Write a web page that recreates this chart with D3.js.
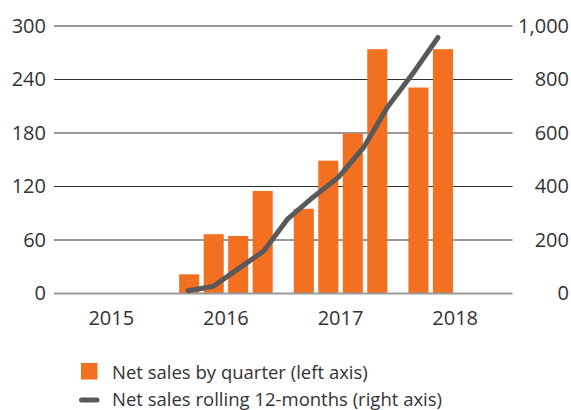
<!DOCTYPE html>
<html>
<head>
<meta charset="utf-8">
<script src="https://cdn.jsdelivr.net/npm/d3@7"></script>
<style>
  html, body { margin: 0; padding: 0; background: #fff; }
  svg { display: block; font-family: "Open Sans", sans-serif; }
</style>
</head>
<body>
<svg id="chart" width="571" height="410"></svg>
<script>
// ---- data ----
const years = ["2015", "2016", "2017", "2018"];
const quarters = ["Q1", "Q2", "Q3", "Q4"];
const barYear = ["2016", "2016", "2016", "2016", "2017", "2017", "2017", "2017", "2018", "2018"];
const barQuarter = ["Q1", "Q2", "Q3", "Q4", "Q1", "Q2", "Q3", "Q4", "Q1", "Q2"];
const barValues = [21.5, 66.5, 64.5, 115, 95, 149, 179.5, 274, 231, 274];
const lineTime = [2016.17, 2016.39, 2016.61, 2016.83, 2017.04, 2017.26, 2017.48, 2017.70, 2017.91, 2018.13, 2018.35];
const lineValues = [10, 27, 93, 159, 279, 360, 434, 545, 697, 822, 957];
const leftTicks = [0, 60, 120, 180, 240, 300];
const rightTicks = [0, 200, 400, 600, 800, 1000];
const legendLabels = ["Net sales by quarter (left axis)", "Net sales rolling 12-months (right axis)"];

// ---- layout ----
const svg = d3.select("#chart");
const plotLeft = 54, plotRight = 512.5, plotTop = 26, plotBottom = 293.5;
const orange = "#F37021", lineColor = "#595959", textColor = "#333333";

const x = d3.scaleBand().domain(years).range([plotLeft, plotRight]).padding(0);
const xq = d3.scaleBand().domain(quarters).range([0, x.bandwidth()]).paddingInner(0.18).paddingOuter(0.43);
const xt = d3.scaleLinear().domain([2015, 2019]).range([plotLeft, plotRight]);
const yL = d3.scaleLinear().domain([0, 300]).range([plotBottom, plotTop]);
const yR = d3.scaleLinear().domain([0, 1000]).range([plotBottom, plotTop]);

// gridlines
svg.append("g").selectAll("line").data(leftTicks.filter(d => d !== 0)).join("line")
  .attr("x1", plotLeft).attr("x2", plotRight)
  .attr("y1", d => yL(d)).attr("y2", d => yL(d))
  .attr("stroke", "#333").attr("stroke-width", 1);

// left axis labels
const gL = svg.append("g").attr("transform", `translate(${plotLeft},0)`)
  .call(d3.axisLeft(yL).tickValues(leftTicks).tickSize(0).tickPadding(8));
gL.select(".domain").remove();
gL.selectAll("text").attr("font-size", 20).attr("fill", textColor).attr("font-family", "Open Sans");

// right axis labels
const gR = svg.append("g").attr("transform", `translate(${plotRight},0)`)
  .call(d3.axisRight(yR).tickValues(rightTicks).tickFormat(d3.format(",")).tickSize(0).tickPadding(0));
gR.select(".domain").remove();
gR.selectAll("text").attr("font-size", 20).attr("fill", textColor).attr("font-family", "Open Sans")
  .attr("text-anchor", "end").attr("x", 569 - plotRight);

// bars
svg.append("g").selectAll("rect").data(barValues).join("rect")
  .attr("x", (d, i) => x(barYear[i]) + xq(barQuarter[i]))
  .attr("width", xq.bandwidth())
  .attr("y", d => yL(d))
  .attr("height", d => yL(0) - yL(d))
  .attr("fill", orange);

// baseline
svg.append("line")
  .attr("x1", plotLeft).attr("x2", plotRight)
  .attr("y1", yL(0)).attr("y2", yL(0))
  .attr("stroke", "#9a9a9a").attr("stroke-width", 2);

// x axis labels
const gX = svg.append("g").attr("transform", `translate(0,${plotBottom})`)
  .call(d3.axisBottom(x).tickSize(0).tickPadding(17));
gX.select(".domain").remove();
gX.selectAll("text").attr("font-size", 20).attr("fill", textColor).attr("font-family", "Open Sans");

// line
const line = d3.line().x((d, i) => xt(lineTime[i])).y(d => yR(d));
svg.append("path").datum(lineValues)
  .attr("d", line)
  .attr("fill", "none").attr("stroke", lineColor).attr("stroke-width", 5)
  .attr("stroke-linecap", "round").attr("stroke-linejoin", "round");

// legend
const lg = svg.append("g");
lg.append("rect").attr("x", 81).attr("y", 363).attr("width", 16.5).attr("height", 16.5).attr("fill", orange);
lg.append("line").attr("x1", 81.5).attr("x2", 97).attr("y1", 400).attr("y2", 400)
  .attr("stroke", lineColor).attr("stroke-width", 5).attr("stroke-linecap", "round");
lg.selectAll("text").data(legendLabels).join("text")
  .attr("x", 112).attr("y", (d, i) => 378.5 + i * 27.5)
  .attr("font-size", 18.5).attr("fill", textColor).attr("font-family", "Open Sans")
  .text(d => d);
</script>
</body>
</html>
